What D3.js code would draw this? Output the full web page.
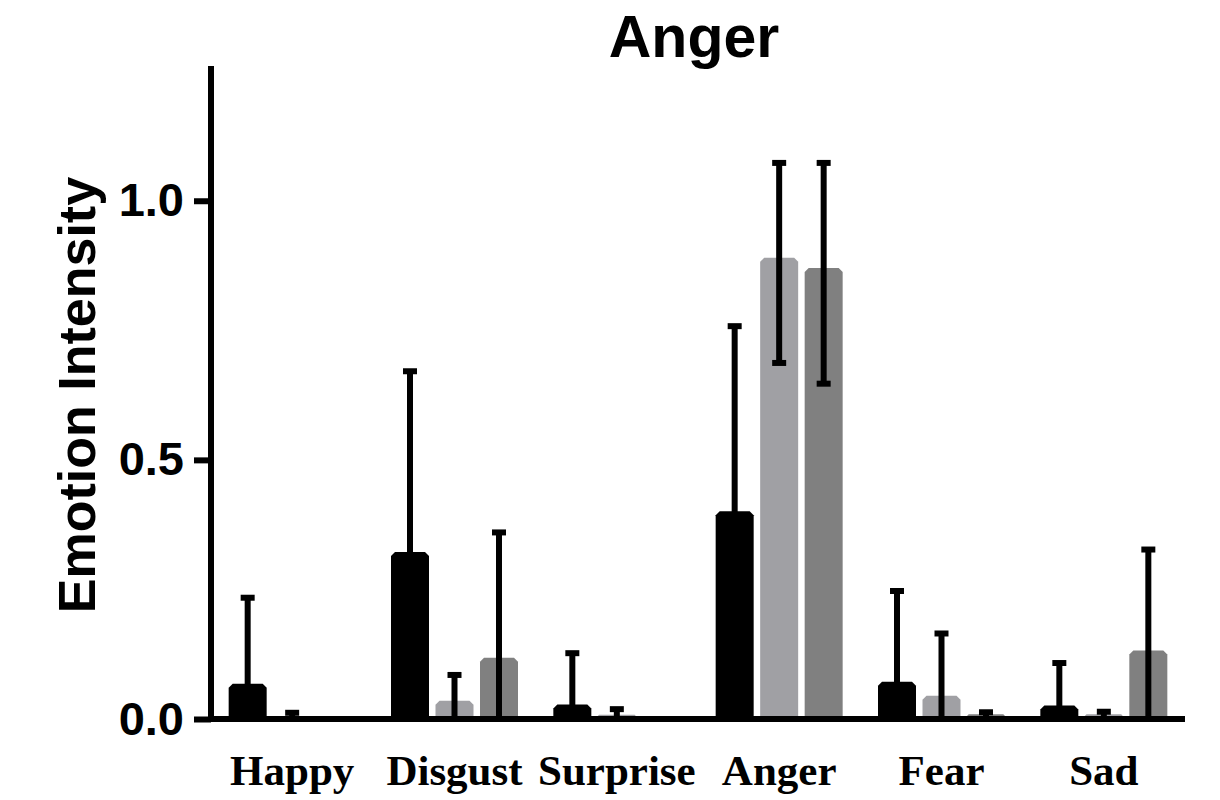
<!DOCTYPE html>
<html>
<head>
<meta charset="utf-8">
<script src="https://cdn.jsdelivr.net/npm/d3@7"></script>
<style>
  body { margin: 0; background: #fff; }
</style>
</head>
<body>
<svg id="chart"></svg>
<script>
var width = 1220;
var height = 800;

// data: bar means, and error bar upper/lower ends
var emotions = ["Happy", "Disgust", "Surprise", "Anger", "Fear", "Sad"];
var groups = ["g1", "g2", "g3"];
var colors = ["#000000", "#a0a0a4", "#808080"];
var means_g1 = [0.068, 0.322, 0.028, 0.401, 0.072, 0.026];
var hi_g1    = [0.234, 0.671, 0.127, 0.758, 0.247, 0.108];
var lo_g1    = [0,     0,     0,     0.044, 0,     0];
var means_g2 = [0.006, 0.035, 0.008, 0.890, 0.045, 0.009];
var hi_g2    = [0.012, 0.085, 0.019, 1.073, 0.165, 0.014];
var lo_g2    = [0,     0,     0,     0.687, 0,     0.004];
var means_g3 = [0.000, 0.118, 0.000, 0.870, 0.009, 0.132];
var hi_g3    = [0.000, 0.360, 0.000, 1.073, 0.013, 0.327];
var lo_g3    = [0,     0,     0,     0.647, 0.005, 0];
var yTicks = [0, 0.5, 1.0];

var allMeans = [means_g1, means_g2, means_g3];
var allHi = [hi_g1, hi_g2, hi_g3];
var allLo = [lo_g1, lo_g2, lo_g3];

var rows = [];
emotions.forEach(function(e, i){
    groups.forEach(function(g, j){
        rows.push({emotion: e, group: g, idx: j, mean: allMeans[j][i], hi: allHi[j][i], lo: allLo[j][i]});
    });
});

var svg = d3.select('#chart')
    .attr('width', width)
    .attr('height', height)

var x = d3.scaleBand()
    .domain(emotions)
    .range([211, 1185]);

var xInner = d3.scaleBand()
    .domain(groups)
    .range([-63.5, 63.5])
    .paddingInner(0.146);

var y = d3.scaleLinear()
    .domain([0, 1.26])
    .range([719, 66]);

function barPath(d){
    var x0 = x(d.emotion) + x.bandwidth()/2 + xInner(d.group);
    var x1 = x0 + xInner.bandwidth();
    var y0 = y(0) - 3;
    var y1 = y(d.mean);
    var c = Math.min(4, (y0 - y1));
    return "M" + x0 + "," + y0 + "L" + x0 + "," + (y1 + c) + "L" + (x0 + c) + "," + y1 +
        "L" + (x1 - c) + "," + y1 + "L" + x1 + "," + (y1 + c) + "L" + x1 + "," + y0 + "Z";
}

var shown = rows.filter(function(d){ return d.mean > 0; });

// bars
svg.selectAll('path.bar')
    .data(shown)
    .enter()
    .append('path')
    .attr('class', 'bar')
    .attr('d', barPath)
    .style('fill', function(d){ return colors[d.idx]; });

// error bars
var err = svg.selectAll('g.err')
    .data(shown)
    .enter()
    .append('g')
    .attr('class', 'err')
    .attr('transform', function(d){
        return 'translate(' + (x(d.emotion) + x.bandwidth()/2 + xInner(d.group) + xInner.bandwidth()/2) + ',0)';
    });

err.append('line')
    .attr('x1', 0).attr('x2', 0)
    .attr('y1', function(d){ return y(d.lo); })
    .attr('y2', function(d){ return y(d.hi); })
    .style('stroke', '#000')
    .style('stroke-width', 6);

err.append('line')
    .attr('x1', -7).attr('x2', 7)
    .attr('y1', function(d){ return y(d.hi); })
    .attr('y2', function(d){ return y(d.hi); })
    .style('stroke', '#000')
    .style('stroke-width', 6);

err.filter(function(d){ return d.lo > 0.02; })
    .append('line')
    .attr('x1', -7).attr('x2', 7)
    .attr('y1', function(d){ return y(d.lo); })
    .attr('y2', function(d){ return y(d.lo); })
    .style('stroke', '#000')
    .style('stroke-width', 6);

// y axis
var yAxis = svg.append('g')
    .attr('transform', 'translate(211,0)')
    .call(d3.axisLeft(y).tickValues(yTicks).tickFormat(d3.format('.1f')).tickSize(17).tickSizeOuter(0));
yAxis.select('.domain').style('stroke-width', 6).attr('d', 'M0,' + y(0) + 'V' + y(1.26));
yAxis.selectAll('.tick line').style('stroke-width', 6);
yAxis.selectAll('.tick text')
    .attr('x', -27)
    .style('font-family', '"Liberation Sans", Arial, sans-serif')
    .style('font-weight', 'bold')
    .style('font-size', '47px')
    .style('fill', '#000');

// x axis line
svg.append('line')
    .attr('x1', 208).attr('x2', 1185)
    .attr('y1', y(0)).attr('y2', y(0))
    .style('stroke', '#000')
    .style('stroke-width', 6);

// x labels
svg.selectAll('text.xlab')
    .data(emotions)
    .enter()
    .append('text')
    .attr('class', 'xlab')
    .attr('x', function(d){ return x(d) + x.bandwidth()/2; })
    .attr('y', 785)
    .attr('text-anchor', 'middle')
    .style('font-family', '"Liberation Serif", "Times New Roman", serif')
    .style('font-weight', 'bold')
    .style('font-size', '43px')
    .text(function(d){ return d; });

// title
svg.append('text')
    .attr('x', 694)
    .attr('y', 57)
    .attr('text-anchor', 'middle')
    .style('font-family', '"Liberation Sans", Arial, sans-serif')
    .style('font-weight', 'bold')
    .style('font-size', '59px')
    .text('Anger');

// y label
svg.append('text')
    .attr('transform', 'translate(95,395) rotate(-90)')
    .attr('text-anchor', 'middle')
    .style('font-family', '"Liberation Sans", Arial, sans-serif')
    .style('font-weight', 'bold')
    .style('font-size', '52px')
    .text('Emotion Intensity');
</script>
</body>
</html>
